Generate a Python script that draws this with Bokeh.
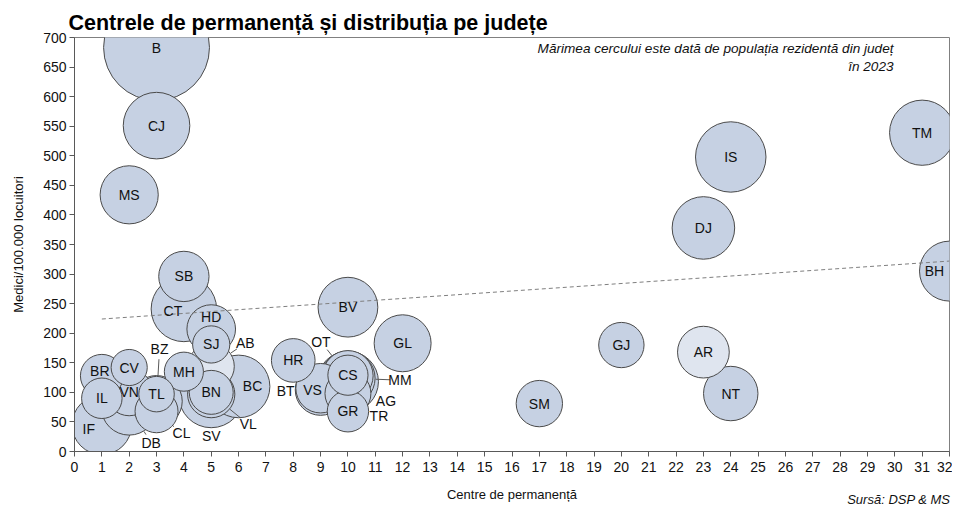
import numpy as np
from bokeh.plotting import figure
from bokeh.models import ColumnDataSource, Range1d, FixedTicker, Label, Title
from bokeh.embed import file_html
from bokeh.resources import INLINE
from bokeh.core.properties import value

# ---------------- data ----------------
counties = ["B", "CJ", "MS", "SB", "CT", "HD", "SJ", "AB", "BZ", "BR",
            "CV", "IL", "VN", "TL", "IF", "DB", "CL", "MH", "BN", "SV",
            "BC", "VL", "HR", "BT", "VS", "OT", "CS", "MM", "AG", "TR",
            "GR", "BV", "GL", "SM", "GJ", "AR", "NT", "DJ", "IS", "TM", "BH"]
# Centre de permanenta (x)
centres = [3, 3, 2, 4, 4, 5, 5, 5, 3, 1,
           2, 1, 2, 3, 1, 2, 3, 4, 5, 5,
           6, 5, 8, 9, 9, 10, 10, 10, 10, 10,
           10, 10, 12, 17, 20, 23, 24, 23, 24, 31, 32]
# Medici / 100.000 locuitori (y)
medici = [683, 551, 434, 296, 241, 207, 181, 144, 85, 128,
          142, 90, 100, 97, 45, 75, 68, 135, 100, 95,
          110, 97, 154, 104, 107, 128, 129, 124, 118, 98,
          68, 244, 183, 81, 180, 168, 98, 378, 498, 539, 305]
# Populatia rezidenta 2023 (mii locuitori) -> marimea cercului
populatie = [1717, 679, 518, 388, 656, 362, 212, 326, 405, 281,
             200, 251, 335, 193, 543, 479, 283, 234, 296, 643,
             601, 342, 292, 393, 375, 389, 247, 452, 570, 323,
             262, 547, 497, 329, 315, 410, 454, 599, 761, 651, 551]
# linia de tendinta
trend_x = [1, 32]
trend_y = [224, 322]

x_ticks = list(range(0, 33))
y_ticks = list(range(0, 701, 50))

# ---------------- styling / layout ----------------
FW, FH = 952, 505
ML, MR, MT, MB = 74, 3, 37, 54
FRAME_W = FW - ML - MR
FRAME_H = FH - MT - MB
X_MAX, Y_MAX = 32, 700
PX_X = FRAME_W / X_MAX
PX_Y = FRAME_H / Y_MAX
FONT = "Liberation Sans"
FILL = "#c6d1e3"
FILL_LIGHT = "#dfe5ef"
light = {"AR", "AB"}
R_SCALE = 1.2776  # px radius per sqrt(thousand people)

# label offsets in px (dx right, dy up) relative to bubble centre
label_off = {"IF": (-13, -4), "CT": (-11, -2), "HD": (0, 12), "BC": (14, 0),
             "VS": (-8, -2), "BH": (-15, 0), "BR": (-2, 5), "DB": (22, -36),
             "CL": (25, -22), "BZ": (3, 52), "SV": (0, -41), "VL": (37, -30),
             "AB": (34, 23), "BT": (-35, -1), "OT": (-27, 34), "MM": (52, -2),
             "AG": (38, -19), "TR": (31, -22)}
leaders = ["BZ", "DB", "CL", "VL", "AB", "OT", "MM"]

radius = [R_SCALE * np.sqrt(v) for v in populatie]
order = sorted(range(len(counties)), key=lambda i: -populatie[i])

src = ColumnDataSource(dict(
    x=[centres[i] for i in order],
    y=[medici[i] for i in order],
    size=[2 * radius[i] for i in order],
    fill=[FILL_LIGHT if counties[i] in light else FILL for i in order],
))

lab_src = ColumnDataSource(dict(
    x=centres, y=medici, text=counties,
    xo=[label_off.get(c, (0, 0))[0] for c in counties],
    yo=[-label_off.get(c, (0, 0))[1] for c in counties],
))

# leader lines
lx0, ly0, lx1, ly1 = [], [], [], []
for c in leaders:
    i = counties.index(c)
    dx, dy = label_off[c]
    L = np.hypot(dx, dy)
    ux, uy = dx / L, dy / L
    r0 = radius[i] + 0.5
    r1 = L - 10
    lx0.append(centres[i] + ux * r0 / PX_X)
    ly0.append(medici[i] + uy * r0 / PX_Y)
    lx1.append(centres[i] + ux * r1 / PX_X)
    ly1.append(medici[i] + uy * r1 / PX_Y)


def page_to_data(px, py):
    return (px - ML) / PX_X, ((MT + FRAME_H) - py) / PX_Y


p = figure(width=FW, height=FH, x_range=Range1d(0, X_MAX), y_range=Range1d(0, Y_MAX),
           output_backend="svg", toolbar_location=None,
           min_border_left=ML, min_border_right=MR, min_border_top=MT, min_border_bottom=MB)
p.title.text = "Centrele de permanență și distribuția pe județe"
p.title.text_font = FONT
p.title.text_font_size = "21.5px"
p.title.text_font_style = "bold"
p.title.text_color = "#000000"
p.title.align = "left"
p.title.offset = -6
p.title.standoff = 5

p.grid.visible = False
p.outline_line_color = "#808080"
p.outline_line_width = 1
p.background_fill_color = "white"
p.border_fill_color = "white"

for ax in (p.xaxis[0], p.yaxis[0]):
    ax.axis_line_color = "#595959"
    ax.major_tick_line_color = "#595959"
    ax.major_tick_out = 5
    ax.major_tick_in = 0
    ax.minor_tick_line_color = None
    ax.major_label_text_font = FONT
    ax.major_label_text_font_size = "14px"
    ax.major_label_text_color = "#111111"
    ax.axis_label_text_font = FONT
    ax.axis_label_text_font_size = "13px"
    ax.axis_label_text_font_style = "normal"
    ax.axis_label_text_color = "#111111"

p.xaxis.ticker = FixedTicker(ticks=x_ticks)
p.yaxis.ticker = FixedTicker(ticks=y_ticks)
p.xaxis.major_label_standoff = 5
p.yaxis.major_label_standoff = 3
p.xaxis.axis_label = "Centre de permanență"
p.yaxis.axis_label = "Medici/100.000 locuitori"
p.xaxis.axis_label_standoff = 12
p.yaxis.axis_label_standoff = 14

p.scatter(x="x", y="y", size="size", source=src, marker="circle",
          fill_color="fill", fill_alpha=1.0, line_color="#4a4a4a", line_width=1)

p.line(trend_x, trend_y, line_color="#7f7f7f", line_width=1, line_dash="4 3")

p.segment(x0=lx0, y0=ly0, x1=lx1, y1=ly1, line_color="#595959", line_width=1)

p.text(x="x", y="y", text="text", x_offset="xo", y_offset="yo", source=lab_src,
       text_align="center", text_baseline="middle", text_font=value(FONT),
       text_font_size="14px", text_color="#111111")

ax_, ay_ = page_to_data(893, 48)
p.add_layout(Label(x=ax_, y=ay_, text="Mărimea cercului este dată de populația rezidentă din județ",
                   text_align="right", text_baseline="middle", text_font=FONT,
                   text_font_size="13.6px", text_font_style="italic", text_color="#111111"))
ax_, ay_ = page_to_data(893, 66)
p.add_layout(Label(x=ax_, y=ay_, text="în 2023",
                   text_align="right", text_baseline="middle", text_font=FONT,
                   text_font_size="13.6px", text_font_style="italic", text_color="#111111"))

source_note = Title(text="Sursă: DSP & MS", align="right", vertical_align="top",
                    text_font=FONT, text_font_size="13px", text_font_style="italic",
                    text_color="#111111", standoff=-26, offset=-1)
p.add_layout(source_note, "below")

open("out.html", "w").write(file_html(p, INLINE))
